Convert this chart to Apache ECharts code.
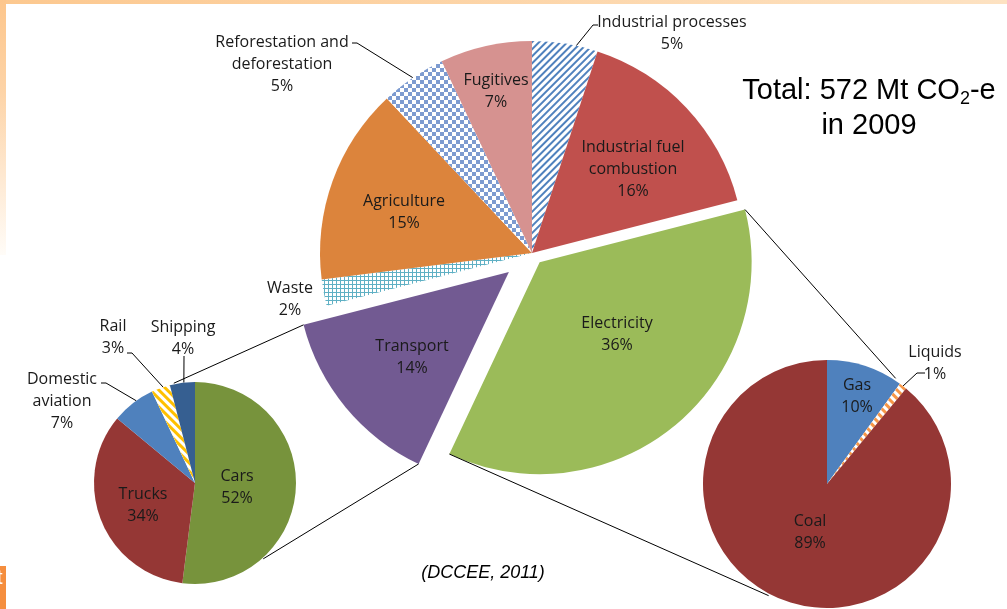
<!DOCTYPE html>
<html>
<head>
<meta charset="utf-8">
<script src="https://cdn.jsdelivr.net/npm/echarts@6/dist/echarts.min.js"></script>
<style>
  html, body { margin: 0; padding: 0; background: #ffffff; }
  #chart { width: 1007px; height: 609px; }
</style>
</head>
<body>
<div id="chart"></div>
<script>
// Greenhouse gas emissions by sector, 2009 (share of total, %)
const sectorNames = ['Industrial processes', 'Industrial fuel combustion', 'Electricity', 'Transport',
  'Waste', 'Agriculture', 'Reforestation and deforestation', 'Fugitives'];
const sectorShares = [5, 16, 36, 14, 2, 15, 5, 7];

// Transport emissions by mode (%)
const transportNames = ['Cars', 'Trucks', 'Domestic aviation', 'Rail', 'Shipping'];
const transportShares = [52, 34, 7, 3, 4];

// Electricity emissions by fuel (%)
const electricityNames = ['Gas', 'Liquids', 'Coal'];
const electricityShares = [10, 1, 89];

const totalText = ['Total: 572 Mt CO{sub|2}-e', 'in 2009'];
const sourceText = '(DCCEE, 2011)';

// ---- styling ----
const LABEL_FONT = "'Open Sans', 'Noto Sans', sans-serif";
const displayNames = {
  'Industrial fuel combustion': 'Industrial fuel\ncombustion',
  'Reforestation and deforestation': 'Reforestation and\ndeforestation',
  'Domestic aviation': 'Domestic\naviation'
};

// diagonal hatching on white: 'up' = rising to the right, 'down' = falling to the right
function stripes(color, dir, band, gap) {
  return { symbol: 'rect', symbolSize: 1, color: color, dashArrayX: [1, 0], dashArrayY: [band, gap],
    rotation: dir === 'up' ? -Math.PI / 4 : Math.PI / 4 };
}
const sliceStyles = {
  'Industrial processes': { color: '#ffffff', decal: stripes('#4f81bd', 'up', 2, 2.5) },
  'Industrial fuel combustion': { color: '#c0504d' },
  'Electricity': { color: '#9bbb59' },
  'Transport': { color: '#725a92' },
  'Waste': { color: '#ffffff', decal: { symbol: 'rect', symbolSize: 1, color: '#5fb0c4',
    dashArrayX: [[1, 0], [1, 3]], dashArrayY: [1, 0, 3, 0], rotation: 0 } },
  'Agriculture': { color: '#dc843c' },
  'Reforestation and deforestation': { color: '#ffffff', decal: { symbol: 'rect', symbolSize: 1, color: '#7d9bd0',
    dashArrayX: [[4, 4], [0, 4, 4, 0]], dashArrayY: [4, 0], rotation: 0 } },
  'Fugitives': { color: '#d69290' },
  'Cars': { color: '#77933c' },
  'Trucks': { color: '#953735' },
  'Domestic aviation': { color: '#4f81bd' },
  'Rail': { color: '#ffffff', decal: stripes('#ffc000', 'down', 3, 3) },
  'Shipping': { color: '#365f91' },
  'Gas': { color: '#4f81bd' },
  'Liquids': { color: '#ffffff', decal: stripes('#f79646', 'down', 3, 3) },
  'Coal': { color: '#953735' }
};

// pie placement
const MAIN = { c: [532, 253], r: 212 };
const TRANS = { c: [195, 483], r: 101 };
const ELEC = { c: [827, 484], r: 124 };
const explode = { 'Electricity': 12, 'Transport': 30 };

// label placement (centre of text block); leader lines run from the slice edge
// (fraction `at` across the slice) to `end`, then a short horizontal `tail`
const labelSpots = {
  'Fugitives': { pos: [496, 91] },
  'Agriculture': { pos: [404, 212] },
  'Industrial fuel combustion': { pos: [633, 169] },
  'Electricity': { pos: [617, 334] },
  'Transport': { pos: [412, 357] },
  'Waste': { pos: [290, 299] },
  'Industrial processes': { pos: [672, 33], at: 0.67, end: [593, 25], tail: 5 },
  'Reforestation and deforestation': { pos: [282, 64], at: 0.5, end: [357, 43], tail: -5 },
  'Cars': { pos: [237, 487] },
  'Trucks': { pos: [143, 505] },
  'Domestic aviation': { pos: [62, 401], at: 0.59, end: [106, 383], tail: -5 },
  'Rail': { pos: [113, 337], at: 0.63, end: [132, 353], tail: -5 },
  'Shipping': { pos: [183, 338], at: 0.56, end: [184, 356], tail: 0 },
  'Gas': { pos: [857, 396] },
  'Coal': { pos: [810, 532] },
  'Liquids': { pos: [935, 363], at: 0.5, end: [917, 373], tail: 8 }
};

// ---- geometry helpers (degrees clockwise from 12 o'clock) ----
function sliceAngles(values) {
  const total = values.reduce((a, b) => a + b, 0);
  let acc = 0;
  return values.map(v => { const a0 = acc / total * 360; acc += v; return [a0, acc / total * 360]; });
}
function polar(c, r, deg) {
  const t = deg * Math.PI / 180;
  return [c[0] + r * Math.sin(t), c[1] - r * Math.cos(t)];
}

const mainAngles = sliceAngles(sectorShares);
// centre of a pulled-out slice: moved along the slice's mid angle
function explodedCentre(name) {
  const i = sectorNames.indexOf(name);
  const [a0, a1] = mainAngles[i];
  return polar(MAIN.c, explode[name], (a0 + a1) / 2);
}

function pieSeries(names, values, layout, opts) {
  const angles = sliceAngles(values);
  const centre = opts.exploded ? explodedCentre(opts.exploded) : layout.c;
  const visible = n => opts.exploded ? n === opts.exploded : !(opts.hide || []).includes(n);
  return {
    type: 'pie',
    center: centre,
    radius: layout.r,
    startAngle: 90,
    clockwise: true,
    animation: false,
    silent: true,
    avoidLabelOverlap: false,
    label: {
      show: true,
      position: 'inside',
      color: '#1a1a1a',
      fontFamily: LABEL_FONT,
      fontSize: 16,
      lineHeight: 22,
      formatter: p => (displayNames[p.name] || p.name) + '\n' + p.value + '%'
    },
    labelLine: { show: false },
    labelLayout: params => {
      const name = names[params.dataIndex];
      const spot = labelSpots[name];
      if (!spot || !visible(name)) return {};
      const out = { x: spot.pos[0], y: spot.pos[1], align: 'center', verticalAlign: 'middle' };
      if (spot.end) {
        const [a0, a1] = angles[params.dataIndex];
        const start = polar(centre, layout.r, a0 + (a1 - a0) * spot.at);
        out.labelLinePoints = [start, spot.end, [spot.end[0] + spot.tail, spot.end[1]]];
      }
      return out;
    },
    data: names.map((n, i) => {
      const show = visible(n);
      const item = {
        name: n,
        value: values[i],
        itemStyle: show ? Object.assign({ borderWidth: 0 }, sliceStyles[n]) : { color: 'rgba(0,0,0,0)' },
        label: { show: show }
      };
      if (show && labelSpots[n] && labelSpots[n].end) {
        item.label.position = 'outside';
        item.labelLine = { show: true, lineStyle: { color: '#000000', width: 1 } };
      }
      return item;
    })
  };
}

// ---- connector lines between the pulled-out slices and their breakdown pies ----
const iT = sectorNames.indexOf('Transport');
const iE = sectorNames.indexOf('Electricity');
const tC = explodedCentre('Transport');
const eC = explodedCentre('Electricity');
const connectors = [
  [polar(tC, MAIN.r, mainAngles[iT][1]), polar(TRANS.c, TRANS.r + 1, 348)],
  [polar(tC, MAIN.r, mainAngles[iT][0]), polar(TRANS.c, TRANS.r + 1, 138)],
  [polar(eC, MAIN.r, mainAngles[iE][0]), polar(ELEC.c, ELEC.r + 2, 33)],
  [polar(eC, MAIN.r, mainAngles[iE][1]), polar(ELEC.c, ELEC.r + 2, 207.6)]
];

const chart = echarts.init(document.getElementById('chart'), null, { renderer: 'canvas' });
chart.setOption({
  backgroundColor: '#ffffff',
  animation: false,
  graphic: [
    // slide frame accents
    { type: 'rect', z: -5, shape: { x: 0, y: 0, width: 1007, height: 4 },
      style: { fill: new echarts.graphic.LinearGradient(0, 0, 1, 0, [
        { offset: 0, color: '#fcc88f' }, { offset: 1, color: '#fde2c2' }]) } },
    { type: 'rect', z: -5, shape: { x: 0, y: 0, width: 6, height: 255 },
      style: { fill: new echarts.graphic.LinearGradient(0, 0, 0, 1, [
        { offset: 0, color: '#fdc68c' }, { offset: 0.35, color: '#fdd3a6' }, { offset: 1, color: '#fffcf8' }]) } },
    { type: 'rect', z: -5, shape: { x: 0, y: 566, width: 6, height: 43 }, style: { fill: '#f58e3e' } },
    { type: 'text', z: -4, left: -3, top: 568,
      style: { text: 't', fill: '#ffffff', font: "20px 'Liberation Sans', Arial, sans-serif" } },
    // headline total
    { type: 'text', z: 10, x: 869, y: 73,
      style: {
        text: totalText.join('\n'),
        align: 'center', verticalAlign: 'top',
        fill: '#000000',
        font: "29px 'Liberation Sans', Arial, sans-serif",
        lineHeight: 35,
        rich: { sub: { fontSize: 18, fontFamily: "'Liberation Sans', Arial, sans-serif", verticalAlign: 'bottom', lineHeight: 35, fill: '#000000' } }
      } },
    // source note
    { type: 'text', z: 10, x: 483, y: 573,
      style: { text: sourceText, align: 'center', verticalAlign: 'middle', fill: '#000000',
        font: "italic 18px 'Liberation Sans', Arial, sans-serif" } }
  ].concat(connectors.map(([p, q]) => ({
    type: 'line', z: 10,
    shape: { x1: p[0], y1: p[1], x2: q[0], y2: q[1] },
    style: { stroke: '#000000', lineWidth: 1 }
  }))),
  series: [
    pieSeries(sectorNames, sectorShares, MAIN, { hide: ['Electricity', 'Transport'] }),
    pieSeries(sectorNames, sectorShares, MAIN, { exploded: 'Electricity' }),
    pieSeries(sectorNames, sectorShares, MAIN, { exploded: 'Transport' }),
    pieSeries(transportNames, transportShares, TRANS, {}),
    pieSeries(electricityNames, electricityShares, ELEC, {})
  ]
});
</script>
</body>
</html>
